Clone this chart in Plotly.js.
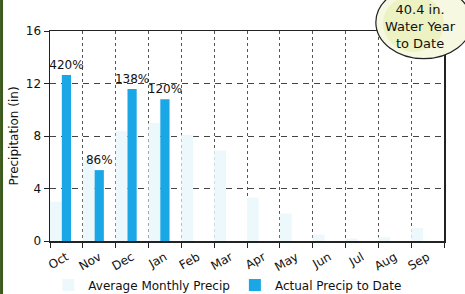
<!DOCTYPE html>
<html>
<head>
<meta charset="utf-8">
<script src="https://cdn.plot.ly/plotly-3.0.1.min.js"></script>
<style>
html,body{margin:0;padding:0;background:#fff;}
#chart{width:465px;height:294px;}
</style>
</head>
<body>
<div id="chart"></div>
<script>
var months = ["Oct","Nov","Dec","Jan","Feb","Mar","Apr","May","Jun","Jul","Aug","Sep"];
var averagePrecip = [3.0, 6.3, 8.4, 9.0, 8.1, 6.9, 3.3, 2.1, 0.5, 0.2, 0.3, 1.0];
var actualPrecip = [12.65, 5.4, 11.58, 10.8, null, null, null, null, null, null, null, null];
var percentLabels = ["420%", "86%", "138%", "120%", "", "", "", "", "", "", "", ""];
var yTicks = [0, 4, 8, 12, 16];
var bubbleText = "40.4 in.<br>Water Year<br>to Date";

var font = "DejaVu Sans, sans-serif";

var traces = [
  {
    type: "bar",
    name: "Average Monthly Precip",
    x: months,
    y: averagePrecip,
    offset: -0.5,
    width: 0.36,
    marker: {color: "#edf8fd"},
    hoverinfo: "skip"
  },
  {
    type: "bar",
    name: "Actual Precip to Date",
    x: months,
    y: actualPrecip,
    offset: -0.14,
    width: 0.28,
    text: percentLabels,
    textposition: "outside",
    constraintext: "none",
    cliponaxis: false,
    textfont: {family: font, size: 12, color: "#111"},
    marker: {color: "#1aa7e6"}
  }
];

var layout = {
  width: 465,
  height: 294,
  margin: {l: 50, r: 21, t: 31, b: 53, autoexpand: false},
  paper_bgcolor: "#ffffff",
  plot_bgcolor: "#ffffff",
  barmode: "overlay",
  showlegend: true,
  legend: {
    orientation: "h",
    x: 0.45, xanchor: "center",
    y: -0.21, yanchor: "middle",
    font: {family: font, size: 12, color: "#111"},
    itemwidth: 30,
    traceorder: "normal"
  },
  xaxis: {
    type: "category",
    tickson: "boundaries",
    ticks: "outside",
    ticklen: 5,
    tickcolor: "#222",
    tickangle: -30,
    ticklabelstandoff: 3,
    tickfont: {family: font, size: 12, color: "#111"},
    showgrid: true,
    gridcolor: "#555",
    griddash: "dot",
    gridwidth: 1,
    showline: true,
    linecolor: "#222",
    linewidth: 1.5,
    mirror: true,
    range: [-0.5, 11.5],
    fixedrange: true
  },
  yaxis: {
    range: [0, 16],
    tickvals: yTicks,
    ticks: "outside",
    ticklen: 5,
    tickcolor: "#222",
    tickfont: {family: font, size: 12, color: "#111"},
    showgrid: true,
    gridcolor: "#444",
    griddash: "6px,5px",
    gridwidth: 1,
    zeroline: false,
    showline: true,
    linecolor: "#222",
    linewidth: 1.5,
    mirror: true,
    title: {text: "Precipitation (in)", font: {family: font, size: 12, color: "#111"}, standoff: 4},
    fixedrange: true
  },
  shapes: [
    {type: "line", xref: "paper", yref: "paper", x0: -0.123, x1: -0.123, y0: -0.3, y1: 1.2,
     line: {color: "#3d5a1e", width: 3}},
    {type: "circle", xref: "paper", yref: "paper", layer: "above",
     x0: 0.827, x1: 1.07, y0: 0.868, y1: 1.215,
     fillcolor: "#f6f8e2", line: {color: "#222", width: 1.2}},
    {type: "circle", xref: "paper", yref: "paper", layer: "above",
     x0: 0.845, x1: 1.0, y0: 0.9, y1: 1.17,
     fillcolor: "#e9efb6", opacity: 0.7, line: {width: 0}}
  ],
  annotations: [
    {xref: "paper", yref: "paper", x: 0.94, y: 1.02, text: bubbleText, showarrow: false,
     xanchor: "center", yanchor: "middle", align: "center",
     font: {family: font, size: 13, color: "#111"}}
  ]
};

Plotly.newPlot("chart", traces, layout, {displayModeBar: false, staticPlot: true});
</script>
</body>
</html>
